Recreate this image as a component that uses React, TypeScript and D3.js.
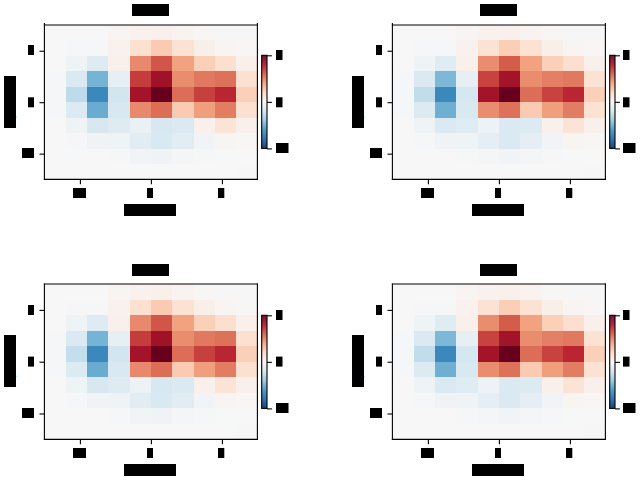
import * as d3 from 'd3';
import React, { useEffect, useRef } from 'react';

// Cell values, top row first
const panelA = [
  [0.0, 0.0, 0.0, 0.02, 0.04, 0.05, 0.03, 0.01, 0.005, 0.005],
  [0.0, -0.01, -0.01, 0.04, 0.16, 0.26, 0.15, 0.06, 0.02, 0.01],
  [0.0, -0.05, -0.13, 0.05, 0.48, 0.63, 0.41, 0.24, 0.17, 0.05],
  [-0.01, -0.15, -0.47, -0.09, 0.7, 0.85, 0.47, 0.53, 0.55, 0.16],
  [-0.01, -0.26, -0.65, -0.19, 0.84, 1.0, 0.56, 0.69, 0.76, 0.24],
  [-0.01, -0.14, -0.5, -0.17, 0.48, 0.56, 0.26, 0.42, 0.52, 0.16],
  [0.0, -0.05, -0.17, -0.13, -0.07, -0.17, -0.15, 0.05, 0.14, 0.05],
  [0.0, -0.01, -0.04, -0.05, -0.11, -0.16, -0.11, -0.03, 0.02, 0.01],
  [0.0, 0.0, 0.0, -0.01, -0.03, -0.04, -0.02, -0.01, -0.005, 0.0],
  [0.0, 0.0, 0.0, 0.0, 0.0, 0.0, 0.0, 0.0, 0.0, 0.005],
];
const panelB = [
  [0.0, 0.0, 0.0, 0.02, 0.04, 0.05, 0.03, 0.01, 0.005, 0.005],
  [0.0, -0.01, -0.01, 0.04, 0.15, 0.25, 0.15, 0.06, 0.02, 0.01],
  [0.0, -0.05, -0.12, 0.05, 0.47, 0.61, 0.41, 0.24, 0.17, 0.05],
  [-0.01, -0.15, -0.45, -0.09, 0.68, 0.84, 0.47, 0.51, 0.53, 0.15],
  [-0.01, -0.25, -0.65, -0.18, 0.84, 1.0, 0.56, 0.68, 0.76, 0.24],
  [-0.01, -0.14, -0.49, -0.16, 0.47, 0.55, 0.26, 0.42, 0.52, 0.15],
  [0.0, -0.05, -0.15, -0.12, -0.06, -0.15, -0.14, 0.05, 0.14, 0.05],
  [0.0, -0.01, -0.04, -0.05, -0.1, -0.15, -0.1, -0.03, 0.02, 0.01],
  [0.0, 0.0, 0.0, -0.01, -0.02, -0.03, -0.02, -0.01, -0.005, 0.0],
  [0.0, 0.0, 0.0, 0.0, 0.0, 0.0, 0.0, 0.0, 0.0, 0.005],
];
const panelC = [
  [0.0, 0.0, 0.0, 0.02, 0.04, 0.05, 0.03, 0.01, 0.005, 0.005],
  [0.0, -0.01, -0.01, 0.04, 0.16, 0.26, 0.15, 0.06, 0.02, 0.01],
  [0.0, -0.05, -0.13, 0.05, 0.48, 0.63, 0.41, 0.24, 0.17, 0.05],
  [-0.01, -0.15, -0.47, -0.09, 0.7, 0.85, 0.47, 0.53, 0.55, 0.16],
  [-0.01, -0.24, -0.65, -0.19, 0.84, 1.0, 0.56, 0.69, 0.76, 0.24],
  [-0.01, -0.14, -0.5, -0.16, 0.48, 0.56, 0.26, 0.42, 0.52, 0.16],
  [0.0, -0.05, -0.17, -0.13, -0.06, -0.17, -0.15, 0.05, 0.14, 0.05],
  [0.0, -0.01, -0.04, -0.05, -0.11, -0.16, -0.11, -0.03, 0.02, 0.01],
  [0.0, 0.0, 0.0, -0.01, -0.03, -0.04, -0.02, -0.01, -0.005, 0.0],
  [0.0, 0.0, 0.0, 0.0, 0.0, 0.0, 0.0, 0.0, 0.0, 0.005],
];
const panelD = [
  [0.0, 0.0, 0.0, 0.02, 0.04, 0.05, 0.03, 0.01, 0.005, 0.005],
  [0.0, -0.01, -0.01, 0.04, 0.15, 0.25, 0.15, 0.06, 0.02, 0.01],
  [0.0, -0.05, -0.12, 0.05, 0.47, 0.61, 0.41, 0.24, 0.17, 0.05],
  [-0.01, -0.15, -0.45, -0.09, 0.68, 0.84, 0.47, 0.51, 0.53, 0.15],
  [-0.01, -0.25, -0.65, -0.18, 0.84, 1.0, 0.56, 0.68, 0.76, 0.24],
  [-0.01, -0.14, -0.49, -0.16, 0.47, 0.55, 0.26, 0.42, 0.52, 0.15],
  [0.0, -0.05, -0.15, -0.12, -0.06, -0.15, -0.14, 0.05, 0.14, 0.05],
  [0.0, -0.01, -0.04, -0.05, -0.1, -0.15, -0.1, -0.03, 0.02, 0.01],
  [0.0, 0.0, 0.0, -0.01, -0.02, -0.03, -0.02, -0.01, -0.005, 0.0],
  [0.0, 0.0, 0.0, 0.0, 0.0, 0.0, 0.0, 0.0, 0.0, 0.005],
];

const panels = [panelA, panelB, panelC, panelD];
const extent = [-1.5, 1.5];
const tickValues = [-1, 0, 1];
const colorTicks = [-1, 0, 1];
// The labels are blacked out in the reference, so these words are stand-ins
const titleLabel = 'title';
const xLabel = 'x label';
const yLabel = 'y label';

// RdBu_r stops from blue (-1) to red (1)
const rdbu = [
  '#053061', '#2166ac', '#4393c3', '#92c5de', '#d1e5f0', '#f7f7f7',
  '#fddbc7', '#f4a582', '#d6604d', '#b2182b', '#67001f',
];

const App: React.FC = () => {
  const svgRef = useRef<SVGSVGElement>(null);

  useEffect(() => {
    if (!svgRef.current) return;

    const svg = d3.select(svgRef.current);
    svg.selectAll('*').remove();

    const color = d3.scaleLinear<string>()
      .domain(d3.range(11).map(i => -1 + i * 0.2))
      .range(rdbu)
      .interpolate(d3.interpolateRgb);

    // Black box with the label inside it, same as the redacted text in the reference
    const redacted = (
      g: d3.Selection<SVGGElement, unknown, null, undefined>,
      text: string, x0: number, y0: number, w: number, h: number, vertical = false
    ) => {
      g.append('rect').attr('x', x0).attr('y', y0).attr('width', w).attr('height', h)
        .attr('fill', '#000');
      const cx = x0 + w / 2;
      const cy = y0 + h / 2;
      g.append('text')
        .attr('text-anchor', 'middle')
        .attr('dominant-baseline', 'central')
        .attr('transform', `translate(${cx}, ${cy})${vertical ? ' rotate(-90)' : ''}`)
        .style('font-family', 'DejaVu Sans')
        .style('font-size', '10px')
        .attr('fill', '#000')
        .text(text);
    };

    panels.forEach((values, p) => {
      const dx = p % 2 === 1 ? 348 : 0;
      const lower = p >= 2;
      const dy = lower ? 260 : 0;
      const g = svg.append('g').attr('transform', `translate(${dx}, ${dy})`);

      const top = lower ? 24 : 25;
      const bottom = 179.4;
      const left = 44.4;
      const right = 257.4;

      const x = d3.scaleLinear().domain(extent).range([left, right]);
      const y = d3.scaleLinear().domain(extent).range([bottom, top]);
      const col = d3.scaleBand<number>().domain(d3.range(10)).range([left, right]);
      const row = d3.scaleBand<number>().domain(d3.range(10)).range([top, bottom]);

      values.forEach((rowValues, r) => {
        g.append('g').selectAll('rect')
          .data(rowValues)
          .join('rect')
          .attr('x', (_, c) => col(c) as number)
          .attr('y', row(r) as number)
          .attr('width', col.bandwidth())
          .attr('height', row.bandwidth())
          .attr('shape-rendering', 'crispEdges')
          .attr('fill', d => color(d));
      });

      // Axes
      const xAxis = g.append('g')
        .attr('transform', `translate(0, ${bottom})`)
        .call(d3.axisBottom(x).tickValues(tickValues).tickSize(4.9).tickFormat(() => ''));
      const yAxis = g.append('g')
        .attr('transform', `translate(${left}, 0)`)
        .call(d3.axisLeft(y).tickValues(tickValues).tickSize(4.9).tickFormat(() => ''));
      [xAxis, yAxis].forEach(a => {
        a.select('.domain').remove();
        a.selectAll('line').attr('stroke', '#000').attr('stroke-width', 1.1);
      });

      // Spines, the side ones overshoot the top a little on the upper row
      const sideTop = lower ? top : top - 1.5;
      const spines = [
        [left, top, right, top],
        [left, bottom, right, bottom],
        [left, sideTop, left, bottom],
        [right, sideTop, right, bottom],
      ];
      g.append('g').selectAll('line')
        .data(spines)
        .join('line')
        .attr('x1', d => d[0]).attr('y1', d => d[1])
        .attr('x2', d => d[2]).attr('y2', d => d[3])
        .attr('stroke', '#000')
        .attr('stroke-width', 1.1)
        .attr('stroke-linecap', 'square');

      // Tick labels
      const base = lower ? -0.7 : 0;
      redacted(g, '-1', 73, 188, 13, 10);
      redacted(g, '0', 147, 188, 6, 10);
      redacted(g, '1', 218, 188, 6.3, 10);
      redacted(g, '1', 28, 45, 6, 10);
      redacted(g, '0', 28, 97.3 + base, 6, 10);
      redacted(g, '-1', 22, 148, 12, 10);

      redacted(g, titleLabel, 132, 4, 37, 12);
      redacted(g, xLabel, 124, 204, 52, 12);
      redacted(g, yLabel, 4, 76 + base * 1.4, 12, 52, true);

      // Colorbar
      const barLeft = 261.7;
      const barRight = 267;
      const barTop = 55.3;
      const barBottom = 148.4;
      const barY = d3.scaleLinear().domain([-1, 1]).range([barBottom, barTop]);
      const steps = d3.range(-1, 1, 2 / 93);
      g.append('g').selectAll('rect')
        .data(steps)
        .join('rect')
        .attr('x', barLeft)
        .attr('y', d => barY(d + 2 / 93))
        .attr('width', barRight - barLeft)
        .attr('height', barY(-1) - barY(-1 + 2 / 93) + 0.4)
        .attr('fill', d => color(d + 1 / 93));
      const barAxis = g.append('g')
        .attr('transform', `translate(${barRight}, 0)`)
        .call(d3.axisRight(barY).tickValues(colorTicks).tickSize(4.9).tickFormat(() => ''));
      barAxis.select('.domain').remove();
      barAxis.selectAll('line').attr('stroke', '#000').attr('stroke-width', 1.1);
      g.append('rect')
        .attr('x', barLeft).attr('y', barTop)
        .attr('width', barRight - barLeft).attr('height', barBottom - barTop)
        .attr('fill', 'none').attr('stroke', '#000').attr('stroke-width', 1.1);

      const shift = dx ? -1 : 0;
      redacted(g, '1', 276 + shift, 50, 6.5, 10);
      redacted(g, '0', 276 + shift, 97.3 + base, 6.5, 10);
      redacted(g, '-1', 276 + shift, 143, 12.5, 10);
    });
  }, []);

  return (
    <svg
      ref={svgRef}
      width={640}
      height={480}
      style={{ position: 'absolute', left: 0, top: 0, background: '#fff' }}
    />
  );
};

export default App;
